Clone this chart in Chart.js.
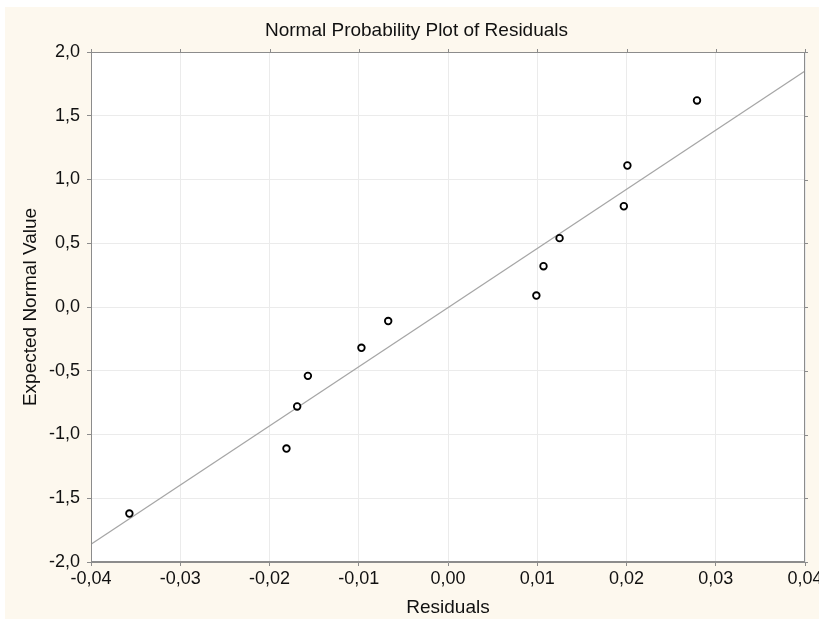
<!DOCTYPE html>
<html>
<head>
<meta charset="utf-8">
<script src="https://cdn.jsdelivr.net/npm/chart.js@4.4.1/dist/chart.umd.min.js"></script>
<style>
    html, body { margin: 0; padding: 0; background: #ffffff; }
    #wrap { width: 819px; height: 619px; position: relative; }
</style>
</head>
<body>
<div id="wrap"><canvas id="chart" width="819" height="619"></canvas></div>
<script>
// residuals (x) and expected normal values (y)
const residuals = [-0.0357, -0.0181, -0.0169, -0.0157, -0.0097, -0.0067, 0.0099, 0.0107, 0.0125, 0.0197, 0.0201, 0.0279];
const expectedNormal = [-1.62, -1.11, -0.78, -0.54, -0.32, -0.11, 0.09, 0.32, 0.54, 0.79, 1.11, 1.62];

// fitted reference line end points
const lineX = [-0.04, 0.04];
const lineY = [-1.86, 1.85];

const xRange = [-0.04, 0.04];
const yRange = [-2, 2];

const chartTitle = 'Normal Probability Plot of Residuals';
const xTitle = 'Residuals';
const yTitle = 'Expected Normal Value';

const FONT = '"Liberation Sans", Arial, sans-serif';

const pointData = residuals.map((x, i) => ({ x: x, y: expectedNormal[i] }));
const lineData = lineX.map((x, i) => ({ x: x, y: lineY[i] }));

// cream panel, plot frame, outer ticks and title
const framePlugin = {
    id: 'frame',
    beforeDraw(chart) {
        const ctx = chart.ctx;
        const area = chart.chartArea;
        ctx.save();
        ctx.fillStyle = '#fdf8ee';
        ctx.fillRect(5, 7, chart.width - 5, chart.height - 7);
        ctx.fillStyle = '#ffffff';
        ctx.fillRect(area.left, area.top, area.right - area.left, area.bottom - area.top);
        ctx.restore();
    },
    afterDraw(chart) {
        const ctx = chart.ctx;
        const area = chart.chartArea;
        const xs = chart.scales.x;
        const ys = chart.scales.y;
        ctx.save();
        ctx.strokeStyle = '#8c8c8c';
        ctx.lineWidth = 1;
        ctx.strokeRect(area.left + 0.5, area.top + 0.5, area.right - area.left - 1, area.bottom - area.top - 1);
        // ticks on the top and right sides
        ctx.beginPath();
        xs.ticks.forEach(t => {
            const px = Math.round(xs.getPixelForValue(t.value)) + 0.5;
            ctx.moveTo(px, area.top);
            ctx.lineTo(px, area.top - 3);
        });
        ys.ticks.forEach(t => {
            const py = Math.round(ys.getPixelForValue(t.value)) + 0.5;
            ctx.moveTo(area.right, py);
            ctx.lineTo(area.right + 3, py);
        });
        ctx.stroke();

        ctx.fillStyle = '#111111';
        ctx.font = '19px ' + FONT;
        ctx.textAlign = 'center';
        ctx.textBaseline = 'middle';
        ctx.fillText(chartTitle, chart.width / 2 + 7, 31);
        ctx.restore();
    }
};

new Chart(document.getElementById('chart'), {
    type: 'scatter',
    data: {
        datasets: [
            {
                label: 'Residuals',
                data: pointData,
                showLine: false,
                pointRadius: 3.3,
                pointBorderWidth: 1.8,
                pointBorderColor: '#000000',
                pointBackgroundColor: '#ffffff',
                order: 1
            },
            {
                label: 'Fit',
                data: lineData,
                showLine: true,
                borderColor: '#a6a6a6',
                borderWidth: 1.2,
                pointRadius: 0,
                fill: false,
                order: 2
            }
        ]
    },
    options: {
        responsive: false,
        animation: false,
        devicePixelRatio: 1,
        layout: { padding: { left: 0, right: 14, top: 52, bottom: 0 } },
        plugins: {
            legend: { display: false },
            tooltip: { enabled: false },
            title: { display: false }
        },
        scales: {
            x: {
                type: 'linear',
                min: xRange[0],
                max: xRange[1],
                afterFit(scale) {
                    scale.height = 57;
                    scale.paddingLeft = 0;
                    scale.paddingRight = 0;
                },
                ticks: {
                    stepSize: 0.01,
                    color: '#111111',
                    padding: 2,
                    maxRotation: 0,
                    font: { family: FONT, size: 18 },
                    callback: v => (Math.abs(v) < 1e-9 ? 0 : v).toFixed(2).replace('.', ',')
                },
                grid: { color: '#ebebeb', tickColor: '#8c8c8c', tickLength: 4 },
                border: { color: '#8c8c8c' },
                title: {
                    display: true,
                    text: xTitle,
                    color: '#111111',
                    font: { family: FONT, size: 19 },
                    padding: { top: 2, bottom: 0 }
                }
            },
            y: {
                type: 'linear',
                min: yRange[0],
                max: yRange[1],
                afterFit(scale) {
                    scale.width = 91;
                    scale.paddingTop = 0;
                    scale.paddingBottom = 0;
                },
                ticks: {
                    stepSize: 0.5,
                    color: '#111111',
                    padding: 7,
                    font: { family: FONT, size: 18 },
                    callback: v => (Math.abs(v) < 1e-9 ? 0 : v).toFixed(1).replace('.', ',')
                },
                grid: { color: '#ebebeb', tickColor: '#8c8c8c', tickLength: 4 },
                border: { color: '#8c8c8c' },
                title: {
                    display: true,
                    text: yTitle,
                    color: '#111111',
                    font: { family: FONT, size: 19 },
                    padding: { top: 19, bottom: 0 }
                }
            }
        }
    },
    plugins: [framePlugin]
});
</script>
</body>
</html>
